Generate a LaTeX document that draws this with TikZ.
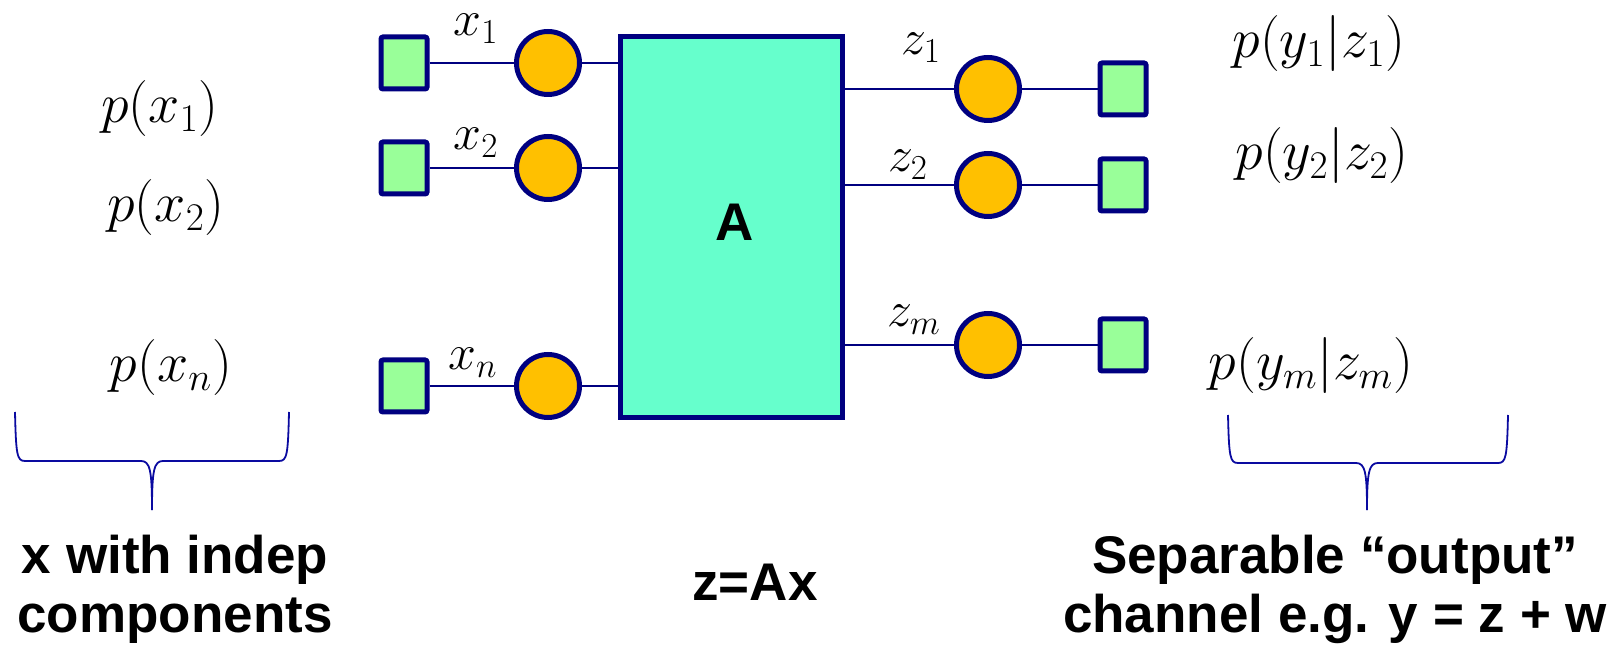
\RequirePackage{fix-cm}
\documentclass[tikz,border=0pt]{standalone}
\usepackage{fontspec}
\setsansfont{Liberation Sans}
\usetikzlibrary{positioning}
\definecolor{navyline}{HTML}{000080}
\definecolor{sqgreen}{HTML}{99FF99}
\definecolor{dotorange}{HTML}{FFC000}
\definecolor{mixaqua}{HTML}{66FFCC}
\definecolor{braceblue}{HTML}{0A0AA0}

\begin{document}
\begin{tikzpicture}[
    x=0.5pt, y=-0.5pt,
    varsq/.style={rectangle, draw=navyline, fill=sqgreen, line width=2.5pt, rounded corners=1pt, minimum width=23pt, minimum height=26pt, inner sep=0pt},
    dot/.style={circle, draw=navyline, fill=dotorange, line width=2.5pt, minimum size=31.5pt, inner sep=0pt},
    mixbox/.style={rectangle, draw=navyline, fill=mixaqua, line width=2.5pt, minimum width=111pt, minimum height=190.5pt, font=\fontsize{26.5}{30}\selectfont\sffamily\bfseries},
    wire/.style={draw=navyline, line width=0.6pt},
    bracket/.style={draw=braceblue, line width=0.9pt},
    lab/.style={anchor=base, inner sep=0pt, font=\fontsize{25}{30}\selectfont},
    prob/.style={anchor=base, inner sep=0pt, font=\fontsize{28}{32}\selectfont},
    caption/.style={align=center, inner sep=0pt, font=\fontsize{26.5}{29.5}\selectfont\sffamily\bfseries}
]
\useasboundingbox (0,0) rectangle (1622,646);

% mixing matrix
\node[mixbox] (mat) at (731.5,227) {\smash{\raisebox{-7pt}{\hspace{3.5pt}A}}};

% input side
\node[varsq] (sx1) at (404,63) {};
\node[varsq] (sx2) at (404,168) {};
\node[varsq] (sxn) at (404,386) {};
\node[dot] (cx1) at (548,63) {};
\node[dot] (cx2) at (548,168) {};
\node[dot] (cxn) at (548,386) {};
\node[lab] (lx1) at (476,36) {$x_1$};
\node[lab] (lx2) at (476,150) {$x_2$};
\node[lab] (lxn) at (473,370) {$x_n$};

% output side
\node[dot] (cz1) at (988,89) {};
\node[dot] (cz2) at (988,185) {};
\node[dot] (czm) at (988,345) {};
\node[varsq] (sy1) at (1123,89) {};
\node[varsq] (sy2) at (1123,185) {};
\node[varsq] (sym) at (1123,345) {};
\node[lab] (lz1) at (921,55) {$z_1$};
\node[lab] (lz2) at (908,172) {$z_2$};
\node[lab] (lzm) at (914,327) {$z_m$};

% densities
\node[prob] (px1) at (160,123) {$p(x_1)$};
\node[prob] (px2) at (166,222) {$p(x_2)$};
\node[prob] (pxn) at (171,382) {$p(x_n)$};
\node[prob] (py1) at (1319,58) {$p(y_1|z_1)$};
\node[prob] (py2) at (1322,170) {$p(y_2|z_2)$};
\node[prob] (pym) at (1311,380) {$p(y_m|z_m)$};

% captions
\node[caption] (capx) at (175,589) {x with indep\\components};
\node[caption] (capa) [anchor=base] at (755,600) {z=Ax};
\node[caption] (capy) at (1335,589) {Separable “output”\\channel e.g. y = z + w};

\draw[wire] (sx1) -- (cx1);
\draw[wire] (sx2) -- (cx2);
\draw[wire] (sxn) -- (cxn);
\draw[wire] (cx1) -- (cx1 -| mat.west);
\draw[wire] (cx2) -- (cx2 -| mat.west);
\draw[wire] (cxn) -- (cxn -| mat.west);
\draw[wire] (cz1 -| mat.east) -- (cz1);
\draw[wire] (cz2 -| mat.east) -- (cz2);
\draw[wire] (czm -| mat.east) -- (czm);
\draw[wire] (cz1) -- (sy1);
\draw[wire] (cz2) -- (sy2);
\draw[wire] (czm) -- (sym);

% braces
\draw[bracket] (15,412) .. controls (16,455) and (17,461) .. (25,461) -- (141,461)
    .. controls (150,461) and (152,470) .. (152,510);
\draw[bracket] (289,412) .. controls (288,455) and (287,461) .. (279,461) -- (163,461)
    .. controls (154,461) and (152,470) .. (152,510);
\draw[bracket] (1228,415) .. controls (1229,457) and (1230,463) .. (1238,463) -- (1356,463)
    .. controls (1365,463) and (1367,472) .. (1367,510);
\draw[bracket] (1508,415) .. controls (1507,457) and (1506,463) .. (1498,463) -- (1378,463)
    .. controls (1369,463) and (1367,472) .. (1367,510);
\end{tikzpicture}
\end{document}
